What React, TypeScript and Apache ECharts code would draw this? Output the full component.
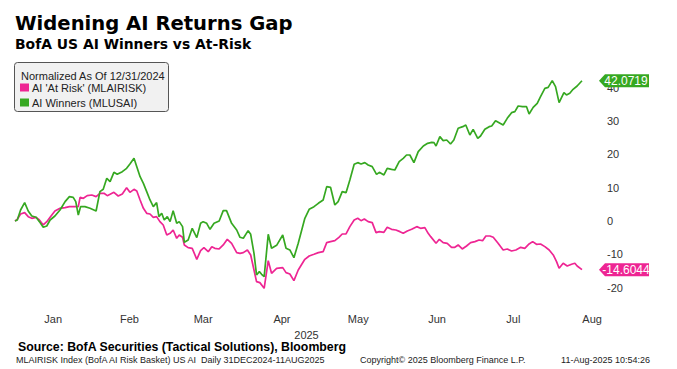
import React, { useEffect, useRef } from "react";
import * as echarts from "echarts";

// Days since 31 Dec 2024 and normalized returns (%)
const atRiskDays = [
  0, 0.9, 2.2, 3.8, 5.2, 6.6, 8.3, 9.6, 11.1, 12.5, 13.8, 15.7, 17.7, 19.7, 21.4, 23.2, 24.9, 25.6, 26.9, 28.4,
  30.2, 31.9, 33.4, 35.0, 36.3, 37.4, 38.9, 40.6, 42.2, 43.9, 45.2, 46.8, 47.9, 49.2, 50.5, 51.8, 53.1, 54.4, 55.7, 57.0,
  58.3, 59.7, 61.0, 62.2, 63.6, 64.6, 65.9, 66.6, 68.1, 69.7, 71.5, 73.0, 74.3, 76.0, 77.4, 78.6, 80.3, 81.9, 83.5, 85.2,
  87.2, 88.5, 89.8, 91.4, 92.7, 94.0, 95.0, 96.3, 98.0, 99.6, 100.9, 102.9, 105.3, 106.6, 108.1, 109.7, 111.4,
  114.0, 115.7, 117.6, 119.3, 121.2, 122.6, 124.1, 125.8, 127.4, 128.7, 130.2, 131.7, 133.4, 134.8, 136.1, 137.4, 138.9, 140.5, 142.0, 143.3,
  145.1, 146.4, 148.1, 149.8, 151.4, 152.7, 154.3, 156.0, 158.0, 159.5, 161.2, 162.5, 163.5, 165.6, 166.9, 168.4, 170.0, 171.7, 173.0, 174.3,
  175.9, 177.6, 179.2, 180.9, 182.5, 183.9, 185.2, 186.8, 188.1, 190.0, 192.0, 193.6, 195.3, 197.0, 198.9, 200.5, 202.2, 203.6, 205.1, 206.7,
  208.4, 210.1, 211.7, 213.0, 214.0, 215.6, 217.2, 218.9, 220.2, 221.1, 223.0,
];
const atRiskValues = [
  0, 0.5, 2.1, 2.5, 1.3, 0.8, 1.1, 0.3, -1.2, -0.2, 1.1, 3.0, 3.8, 4.0, 4.3, 4.3, 4.3, 7.1, 6.8, 7.6,
  7.8, 7.3, 8.3, 8.3, 7.6, 8.0, 8.6, 7.5, 8.1, 10.0, 8.6, 9.5, 9.0, 6.3, 3.8, 2.3, 2.1, 1.1, 1.3, -0.2,
  -1.2, -4.2, -3.7, -2.7, -5.2, -4.2, -4.9, -7.2, -8.0, -8.2, -11.5, -8.9, -8.0, -9.2, -7.7, -8.2, -8.4, -7.2, -5.5, -6.7,
  -9.5, -9.7, -9.5, -8.7, -10.2, -14.7, -18.2, -18.5, -20.2, -11.9, -15.7, -14.2, -14.0, -15.5, -15.9, -17.9, -14.7,
  -11.5, -10.5, -10.0, -9.5, -9.2, -6.5, -6.2, -5.9, -4.9, -3.9, -3.9, -1.7, 0.3, 0.8, 0.1, 0.6, -0.2, -0.5, -3.5, -3.2,
  -3.4, -1.9, -2.5, -2.7, -3.2, -3.7, -3.0, -2.5, -1.7, -2.2, -2.0, -3.7, -4.7, -6.7, -5.5, -6.5, -6.7, -7.9, -7.9, -7.2,
  -8.4, -7.5, -6.5, -6.2, -5.7, -5.9, -4.5, -4.5, -4.9, -6.7, -8.7, -8.4, -9.0, -8.7, -7.9, -8.2, -6.9, -6.2, -7.0, -6.9,
  -7.7, -8.7, -10.2, -12.2, -14.2, -12.7, -13.5, -13.0, -12.7, -13.5, -14.6044,
];
const winnersDays = [
  0, 0.9, 2.2, 3.8, 5.2, 6.6, 8.3, 9.6, 11.1, 12.5, 13.8, 15.7, 17.7, 19.7, 21.4, 22.9, 23.9, 24.9, 25.8, 27.5,
  29.5, 31.9, 33.4, 34.7, 36.1, 37.4, 38.9, 40.2, 42.2, 43.9, 45.2, 46.8, 47.9, 49.2, 50.5, 51.8, 53.1, 54.4, 55.7, 56.6,
  57.7, 58.7, 59.9, 61.0, 62.2, 63.6, 64.6, 65.9, 66.6, 68.1, 69.7, 71.5, 73.0, 74.0, 75.4, 76.7, 78.3, 80.3, 81.9, 83.2,
  85.2, 87.2, 88.5, 89.8, 91.7, 92.7, 94.0, 95.0, 96.1, 97.0, 98.0, 99.6, 100.9, 102.9, 105.3, 106.6, 108.1, 109.7, 111.4,
  114.0, 115.7, 117.6, 119.3, 121.2, 122.6, 124.1, 125.8, 127.1, 128.7, 130.2, 131.7, 133.4, 134.8, 136.1, 137.6, 138.9, 140.5, 142.2, 143.3,
  145.1, 146.4, 148.1, 149.4, 151.1, 152.7, 154.0, 155.3, 156.9, 158.6, 160.6, 162.3, 163.9, 164.8, 165.6, 167.1, 168.4, 169.8, 171.3, 172.6,
  174.3, 176.1, 177.3, 178.9, 180.2, 182.0, 183.1, 184.8, 186.5, 187.5, 189.0, 190.4, 192.0, 193.6, 195.3, 196.6, 197.9, 199.6, 201.2, 202.2,
  203.8, 205.4, 206.7, 208.4, 209.7, 211.3, 212.6, 214.0, 215.9, 216.9, 218.2, 219.5, 221.1, 223.0,
];
const winnersValues = [
  0, 0.3, 3.3, 5.5, 3.0, 1.5, 1.1, -0.2, -1.9, -1.5, 0.3, 1.5, 3.3, 5.8, 7.3, 7.1, 5.8, 1.8, 4.3, 4.3,
  3.8, 3.0, 8.8, 9.5, 12.8, 11.8, 14.6, 14.0, 14.8, 15.8, 17.1, 18.8, 16.3, 13.3, 11.3, 8.8, 6.3, 4.3, 5.5, 1.3,
  2.3, 0.3, 1.3, -0.2, 3.1, -0.7, -0.2, -1.7, -6.4, -5.7, -2.2, -5.0, -0.7, -0.2, -0.7, -2.5, -0.7, 0, 3.1, 3.1,
  -0.7, -2.7, -4.9, -5.2, -2.9, -4.0, -9.7, -16.2, -15.2, -16.0, -16.7, -4.0, -8.2, -7.3, -4.2, -8.2, -8.7, -11.0, -6.7,
  0.8, 3.5, 4.3, 5.3, 6.3, 10.3, 10.1, 4.8, 5.8, 8.8, 8.5, 12.3, 17.0, 17.5, 17.1, 17.5, 16.8, 16.3, 14.0, 14.6,
  13.8, 15.8, 15.5, 15.3, 17.8, 18.8, 19.8, 19.8, 17.5, 20.8, 22.5, 23.3, 23.6, 23.5, 22.5, 25.3, 24.1, 24.3, 23.1, 24.3,
  27.8, 28.3, 28.8, 25.8, 27.5, 24.8, 25.5, 27.5, 28.3, 28.5, 30.1, 29.5, 28.8, 30.8, 32.5, 32.8, 34.5, 34.3, 34.3, 32.1,
  34.1, 35.3, 37.3, 39.8, 40.1, 42.1, 40.3, 35.5, 38.5, 37.8, 38.3, 39.5, 40.5, 42.0719,
];

// Axis labels
const monthLabels = ["Jan", "Feb", "Mar", "Apr", "May", "Jun", "Jul", "Aug"];
const monthMidDays = [15, 45, 74, 105, 135, 166, 196, 227];
const yTickValues = [-20, -10, 0, 10, 20, 30, 40];

const seriesNames = ["AI 'At Risk' (MLAIRISK)", "AI Winners (MLUSAI)"];
const PINK = "#ee2593";
const GREEN = "#36a821";

const FONT = "'Liberation Sans', Arial, sans-serif";

function pairs(xs: number[], ys: number[]) {
  return xs.map((x, i) => [x, ys[i]]);
}

function endMarker(days: number[], vals: number[], color: string) {
  const lx = days[days.length - 1];
  const ly = vals[vals.length - 1];
  return {
    silent: true,
    symbol: "path://M0,6.5L6,0L50,0L50,13L6,13Z",
    symbolSize: [50, 13],
    symbolKeepAspect: false,
    symbolOffset: [42, 0],
    itemStyle: { color },
    label: {
      show: true,
      position: "inside",
      color: "#fff",
      fontSize: 12,
      fontFamily: FONT,
      offset: [2, 0],
      formatter: () => ly.toFixed(4),
    },
    data: [{ coord: [lx, ly], value: ly }],
  };
}

export default function App() {
  const ref = useRef<HTMLDivElement>(null);
  useEffect(() => {
    if (!ref.current) return;
    const chart = echarts.init(ref.current, undefined, { renderer: "svg" });
    chart.setOption({
      animation: false,
      backgroundColor: "#fff",
      textStyle: { fontFamily: FONT },
      title: [
        {
          text: "Widening AI Returns Gap",
          left: 15,
          top: 13,
          padding: 0,
          textStyle: { fontFamily: "'DejaVu Sans', sans-serif", fontWeight: "bold", fontSize: 19.6, color: "#000" },
        },
        {
          text: "BofA US AI Winners vs At-Risk",
          left: 15,
          top: 37,
          padding: 0,
          textStyle: { fontFamily: "'DejaVu Sans', sans-serif", fontWeight: "bold", fontSize: 13.9, color: "#000" },
        },
      ],
      legend: {
        data: seriesNames,
        orient: "vertical",
        left: 20,
        top: 82,
        padding: 0,
        itemWidth: 9,
        itemHeight: 8,
        itemGap: 4,
        icon: "rect",
        selectedMode: false,
        textStyle: { fontFamily: FONT, fontSize: 11, color: "#222", padding: [0, 0, 0, -2] },
      },
      grid: { left: 15, right: 79, top: 71, bottom: 64.7 },
      xAxis: {
        type: "value",
        min: 0,
        max: 229.3,
        name: "2025",
        nameLocation: "middle",
        nameGap: 17,
        nameTextStyle: { fontFamily: FONT, fontSize: 11, color: "#333" },
        axisLine: { show: false },
        axisTick: { show: false },
        splitLine: { show: false },
        axisLabel: {
          customValues: monthMidDays,
          margin: 9,
          fontSize: 11,
          color: "#333",
          fontFamily: FONT,
          formatter: (v: number) => monthLabels[monthMidDays.indexOf(v)] ?? "",
        },
      },
      yAxis: {
        type: "value",
        position: "right",
        min: -25,
        max: 45,
        axisLine: { show: false },
        axisTick: { show: false },
        splitLine: { show: false },
        axisLabel: {
          customValues: yTickValues,
          margin: 9,
          fontSize: 11,
          color: "#333",
          fontFamily: FONT,
        },
      },
      series: [
        {
          name: seriesNames[0],
          type: "line",
          data: pairs(atRiskDays, atRiskValues),
          symbol: "none",
          color: PINK,
          lineStyle: { width: 1.7, color: PINK },
          markPoint: endMarker(atRiskDays, atRiskValues, PINK),
        },
        {
          name: seriesNames[1],
          type: "line",
          data: pairs(winnersDays, winnersValues),
          symbol: "none",
          color: GREEN,
          lineStyle: { width: 1.7, color: GREEN },
          markPoint: endMarker(winnersDays, winnersValues, GREEN),
        },
      ],
      graphic: [
        {
          type: "rect",
          z: -1,
          shape: { x: 14.5, y: 62.5, width: 154, height: 49, r: 3 },
          style: { fill: "#f1f1f1", stroke: "#555", lineWidth: 1 },
        },
        {
          type: "text",
          left: 21,
          top: 70,
          style: { text: "Normalized As Of 12/31/2024", font: `11px ${FONT}`, fill: "#222" },
        },
        {
          type: "text",
          left: 18,
          top: 341,
          style: { text: "Source: BofA Securities (Tactical Solutions), Bloomberg", font: `bold 12.3px ${FONT}`, fill: "#000" },
        },
        {
          type: "text",
          left: 16,
          top: 355,
          style: { text: "MLAIRISK Index (BofA AI Risk Basket) US AI  Daily 31DEC2024-11AUG2025", font: `9px ${FONT}`, fill: "#222" },
        },
        {
          type: "text",
          left: 360,
          top: 355,
          style: { text: "Copyright\u00a9 2025 Bloomberg Finance L.P.", font: `9px ${FONT}`, fill: "#222" },
        },
        {
          type: "text",
          right: 27,
          top: 355,
          style: { text: "11-Aug-2025 10:54:26", font: `9px ${FONT}`, fill: "#222" },
        },
      ],
    });
    return () => chart.dispose();
  }, []);
  return (
    <div
      ref={ref}
      style={{ position: "fixed", left: 0, top: 0, width: 677, height: 369, background: "#fff" }}
    />
  );
}
